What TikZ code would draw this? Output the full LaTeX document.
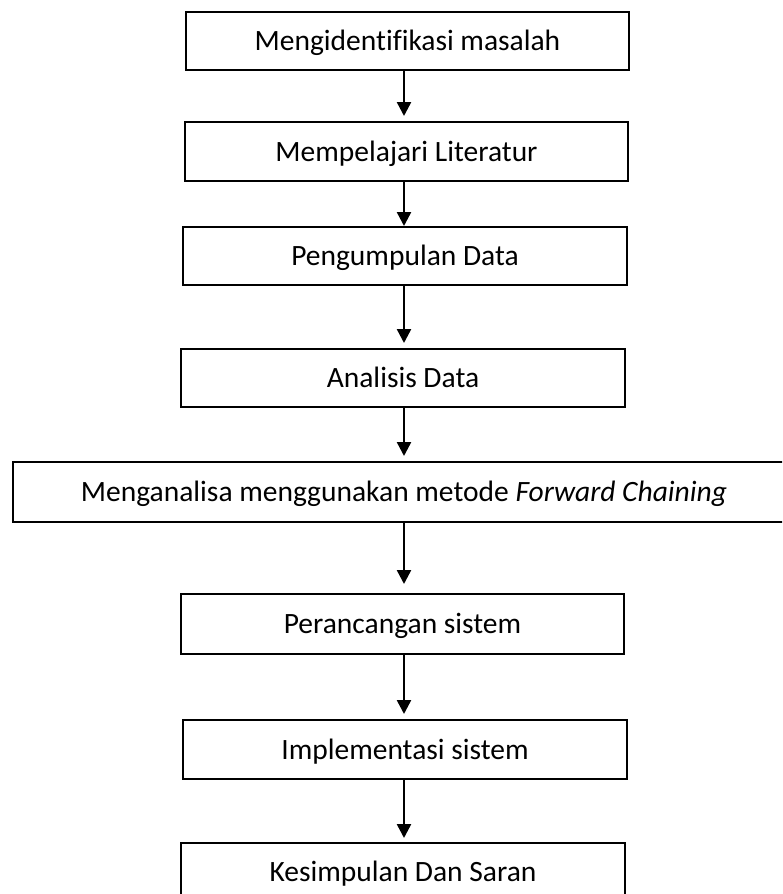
\documentclass[tikz,border=0pt]{standalone}
\usepackage{fontspec}
\setmainfont[Ligatures=NoCommon]{Carlito}
\usetikzlibrary{arrows.meta}
\begin{document}
\begin{tikzpicture}[x=1pt,y=-1pt,
  stepbox/.style={draw=black, line width=2pt, rectangle, inner sep=0pt,
    minimum height=58pt, font=\fontsize{29.5}{35}\selectfont,
    text height=19pt, text depth=0pt},
  flow/.style={draw=black, line width=2.5pt,
    -{Triangle[length=14pt,width=14pt]}}]
\useasboundingbox (0,0) rectangle (782,894);
\begin{scope}
\clip (0,0) rectangle (782,894);
\node[stepbox, minimum width=443pt] (b1) at (407.5,41) {Mengidentifikasi masalah};
\node[stepbox, minimum width=443pt, minimum height=59pt] (b2) at (406.5,151.5) {Mempelajari Literatur};
\node[stepbox, minimum width=444pt] (b3) at (405,256) {Pengumpulan Data};
\node[stepbox, minimum width=444pt] (b4) at (403,378) {Analisis Data};
\node[stepbox, minimum width=782pt, minimum height=60pt] (b5) at (404,492)
  {Menganalisa menggunakan metode \textit{Forward Chaining}};
\node[stepbox, minimum width=443pt, minimum height=60pt] (b6) at (402.5,624) {Perancangan sistem};
\node[stepbox, minimum width=444pt, minimum height=59pt] (b7) at (405,749.5) {Implementasi sistem};
\node[stepbox, minimum width=444pt] (b8) at (403,872) {Kesimpulan Dan Saran};
\end{scope}
\coordinate (ax) at (404,0);
\draw[flow, shorten >=5pt] (b1.south -| ax) -- (b2.north -| ax);
\draw[flow] (b2.south -| ax) -- (b3.north -| ax);
\draw[flow, shorten >=5pt] (b3.south -| ax) -- (b4.north -| ax);
\draw[flow, shorten >=5pt] (b4.south -| ax) -- (b5.north -| ax);
\draw[flow, shorten >=9pt] (b5.south -| ax) -- (b6.north -| ax);
\draw[flow, shorten >=5pt] (b6.south -| ax) -- (b7.north -| ax);
\draw[flow, shorten >=4pt] (b7.south -| ax) -- (b8.north -| ax);
\end{tikzpicture}
\end{document}
